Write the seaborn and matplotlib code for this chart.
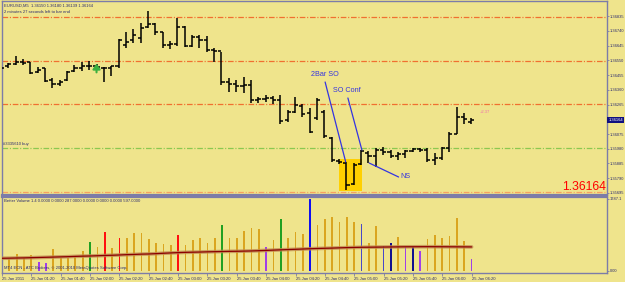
import numpy as np
import pandas as pd
import matplotlib
matplotlib.use("Agg")
import matplotlib.pyplot as plt
from matplotlib.patches import Rectangle
import seaborn as sns

# ---------------- data ----------------
time_labels = ["25 Jan 2011", "25 Jan 01:20", "25 Jan 01:40", "25 Jan 02:00", "25 Jan 02:20",
               "25 Jan 02:40", "25 Jan 03:00", "25 Jan 03:20", "25 Jan 03:40", "25 Jan 04:00",
               "25 Jan 04:20", "25 Jan 04:40", "25 Jan 05:00", "25 Jan 05:20", "25 Jan 05:40",
               "25 Jan 06:00", "25 Jan 06:20"]

high = [1.36519, 1.36532, 1.36577, 1.36558, 1.36539, 1.36507, 1.36500, 1.36436, 1.36423, 1.36481,
        1.36519, 1.36539, 1.36545, 1.36526, 1.36507, 1.36513, 1.36687, 1.36732, 1.36751, 1.36790,
        1.36867, 1.36790, 1.36732, 1.36674, 1.36822, 1.36771, 1.36713, 1.36713, 1.36706, 1.36629,
        1.36603, 1.36436, 1.36423, 1.36442, 1.36423, 1.36313, 1.36326, 1.36320, 1.36326, 1.36230,
        1.36313, 1.36268, 1.36243, 1.36307, 1.36230, 1.36056, 1.35914, 1.35895, 1.35888, 1.35972,
        1.35966, 1.35985, 1.35991, 1.35972, 1.35959, 1.35972, 1.35985, 1.35985, 1.35985, 1.35953,
        1.35991, 1.36088, 1.36249, 1.36210, 1.36180]
low = [1.36442, 1.36500, 1.36519, 1.36519, 1.36461, 1.36468, 1.36410, 1.36371, 1.36384, 1.36416,
       1.36474, 1.36481, 1.36487, 1.36487, 1.36410, 1.36449, 1.36500, 1.36629, 1.36661, 1.36661,
       1.36758, 1.36713, 1.36629, 1.36622, 1.36642, 1.36635, 1.36635, 1.36629, 1.36603, 1.36539,
       1.36391, 1.36346, 1.36346, 1.36339, 1.36275, 1.36275, 1.36281, 1.36268, 1.36140, 1.36152,
       1.36210, 1.36185, 1.36082, 1.36165, 1.36049, 1.35895, 1.35882, 1.35714, 1.35747, 1.35875,
       1.35888, 1.35863, 1.35940, 1.35920, 1.35908, 1.35920, 1.35959, 1.35959, 1.35895, 1.35875,
       1.35908, 1.35959, 1.36075, 1.36140, 1.36139]
open_ = [1.36487, 1.36513, 1.36526, 1.36539, 1.36539, 1.36474, 1.36500, 1.36423, 1.36397, 1.36423,
         1.36481, 1.36500, 1.36513, 1.36513, 1.36500, 1.36500, 1.36513, 1.36648, 1.36680, 1.36693,
         1.36764, 1.36783, 1.36732, 1.36648, 1.36655, 1.36764, 1.36642, 1.36700, 1.36680, 1.36616,
         1.36610, 1.36410, 1.36397, 1.36384, 1.36391, 1.36294, 1.36300, 1.36307, 1.36294, 1.36165,
         1.36217, 1.36255, 1.36210, 1.36178, 1.36217, 1.36049, 1.35901, 1.35888, 1.35753, 1.35882,
         1.35953, 1.35933, 1.35972, 1.35959, 1.35933, 1.35946, 1.35966, 1.35978, 1.35972, 1.35908,
         1.35920, 1.35985, 1.36075, 1.36185, 1.36150]
close = [1.36500, 1.36526, 1.36539, 1.36532, 1.36468, 1.36487, 1.36416, 1.36397, 1.36410, 1.36474,
         1.36500, 1.36513, 1.36513, 1.36507, 1.36500, 1.36513, 1.36680, 1.36668, 1.36713, 1.36758,
         1.36783, 1.36732, 1.36648, 1.36655, 1.36764, 1.36642, 1.36700, 1.36680, 1.36616, 1.36610,
         1.36410, 1.36397, 1.36384, 1.36391, 1.36294, 1.36300, 1.36307, 1.36294, 1.36159, 1.36217,
         1.36262, 1.36204, 1.36088, 1.36294, 1.36062, 1.35908, 1.35895, 1.35747, 1.35875, 1.35966,
         1.35933, 1.35972, 1.35959, 1.35933, 1.35946, 1.35966, 1.35978, 1.35972, 1.35908, 1.35920,
         1.35985, 1.36075, 1.36185, 1.36172, 1.36164]

volume = [322, 298, 422, 322, 397, 223, 198, 546, 322, 322,
          372, 496, 719, 595, 967, 570, 818, 818, 942, 942,
          794, 694, 670, 645, 893, 645, 769, 818, 694, 818,
          1141, 818, 818, 992, 1066, 1042, 595, 769, 1290, 818,
          967, 918, 1787, 1141, 1290, 1339, 1215, 1339, 1215, 1166,
          694, 1116, 620, 694, 843, 595, 595, 496, 794, 893,
          818, 868, 1314, 744, 287]
vol_kind = ["n", "n", "n", "n", "n", "p", "p", "n", "n", "n",
            "n", "n", "G", "n", "R", "n", "R", "n", "n", "n",
            "n", "n", "n", "n", "R", "n", "n", "n", "n", "n",
            "G", "n", "n", "n", "n", "n", "p", "n", "G", "n",
            "n", "n", "B", "n", "n", "n", "n", "n", "n", "S",
            "n", "n", "S", "D", "n", "p", "D", "p", "n", "n",
            "n", "n", "n", "n", "p"]
avg_volume = [315, 318, 322, 325, 330, 335, 340, 345, 350, 355,
              362, 368, 372, 378, 385, 390, 397, 405, 410, 418,
              422, 430, 440, 448, 456, 462, 466, 470, 475, 479,
              483, 487, 489, 493, 497, 503, 510, 518, 525, 532,
              538, 545, 552, 558, 563, 568, 574, 580, 584, 588,
              590, 592, 594, 596, 598, 600, 601, 602, 603, 602,
              601, 600, 599, 598, 597]

price_ticks = [1.36835, 1.36740, 1.36645, 1.36550, 1.36455, 1.36360, 1.36265,
               1.36075, 1.35980, 1.35885, 1.35790, 1.35695]
level_lines = [1.36829, 1.36545, 1.36268, 1.35700]
buy_level = 1.35985
last_price = 1.36164

# ---------------- style ----------------
BG = "#EFE48C"
FRAME = "#7C7CA8"
TXT = "#2A2A70"
kind_colors = {"n": "#DAA520", "p": "#A040E8", "G": "#22A022", "R": "#FF1010",
               "B": "#1010F0", "S": "#4848C8", "D": "#101090"}

sns.set_style("white", {"axes.facecolor": BG, "figure.facecolor": BG})
plt.rcParams["font.family"] = ["Liberation Sans", "DejaVu Sans"]

fig = plt.figure(figsize=(6.25, 2.82), dpi=100)
fig.patch.set_facecolor(BG)
W, H = 625, 282
ax1 = fig.add_axes([2 / W, 1 - 195 / H, 605 / W, 194 / H])
ax2 = fig.add_axes([2 / W, 1 - 273 / H, 605 / W, 76 / H])

n = len(close)
xs = np.arange(n)
df = pd.DataFrame({"bar": xs, "open": open_, "high": high, "low": low, "close": close,
                   "volume": volume, "kind": vol_kind, "avg": avg_volume})

xmin, xmax = 0.14, 82.45
for ax in (ax1, ax2):
    ax.set_facecolor(BG)
    ax.set_xlim(xmin, xmax)
    for s in ax.spines.values():
        s.set_color(FRAME)
        s.set_linewidth(1.0)
        s.set_visible(True)
ax1.spines["bottom"].set_linewidth(1.6)
ax2.spines["top"].set_linewidth(1.6)

# ---------------- main panel ----------------
ax1.set_ylim(1.35682, 1.36932)
dash = (0, (4.5, 1.4, 0.9, 1.4))
for i, lv in enumerate(level_lines):
    ax1.axhline(lv, color="#F07030" if i < 3 else "#F8A060", lw=0.9, ls=dash, zorder=1)
ax1.axhline(buy_level, color="#8CC850", lw=0.9, ls=dash, zorder=1)

# highlight box (2 bar shake-out)
ax1.add_patch(Rectangle((46.0, 1.35708), 3.1, 1.35914 - 1.35708, facecolor="#FFD000",
                        edgecolor="none", zorder=2))

ax1.vlines(df["bar"], df["low"], df["high"], color="black", lw=1.1, zorder=3)
ax1.hlines(df["open"], df["bar"] - 0.42, df["bar"], color="black", lw=1.1, zorder=3)
ax1.hlines(df["close"], df["bar"], df["bar"] + 0.42, color="black", lw=1.1, zorder=3)

# green arrow signal
ax1.annotate("", xy=(13, 1.36528), xytext=(13, 1.36472),
             arrowprops=dict(arrowstyle="-|>,head_width=0.22,head_length=0.3",
                             color="#3CB040", lw=1.5, shrinkA=0, shrinkB=0), zorder=4)

# annotation lines
ax1.plot([44.1, 46.9], [1.36410, 1.35895], color="#3434E0", lw=0.9, zorder=5)
ax1.plot([47.2, 49.1], [1.36307, 1.35972], color="#3434E0", lw=0.9, zorder=5)
ax1.plot([50.1, 54.1], [1.35888, 1.35798], color="#3434E0", lw=0.9, zorder=5)
ax1.text(42.2, 1.36435, "2Bar SO", color="#3434E0", fontsize=5.2, va="bottom", ha="left")
ax1.text(45.2, 1.36330, "SO Conf", color="#3434E0", fontsize=5.2, va="bottom", ha="left")
ax1.text(54.3, 1.35800, "NS", color="#3434E0", fontsize=5.2, va="center", ha="left")
ax1.text(65.2, 1.36220, "+2.37", color="#F070B0", fontsize=3.0, va="center", ha="left")

ax1.text(0.003, 0.985, "EURUSD,M5  1.36150 1.36180 1.36139 1.36164", transform=ax1.transAxes,
         color=TXT, fontsize=3.0, va="top", ha="left")
ax1.text(0.003, 0.955, "2 minutes 27 seconds left to bar end", transform=ax1.transAxes,
         color=TXT, fontsize=3.0, va="top", ha="left")
ax1.text(0.3, buy_level + 0.00012, "#3335610 buy", color=TXT, fontsize=3.0,
         va="bottom", ha="left")
ax1.text(0.998, 1.35695, f"{last_price:.5f}", transform=ax1.get_yaxis_transform(),
         color="#FF0000", fontsize=8.8, va="bottom", ha="right")

ax1.yaxis.tick_right()
ax1.set_yticks(price_ticks)
ax1.set_yticklabels([f"{t:.5f}" for t in price_ticks])
ax1.tick_params(axis="y", right=True, length=1.5, width=0.6, color=FRAME, labelsize=2.9,
                labelcolor=TXT, pad=0.6)
ax1.tick_params(axis="x", bottom=False, labelbottom=False)
ax1.text(1.002, last_price, f"{last_price:.5f}", transform=ax1.get_yaxis_transform(),
         color="white", fontsize=2.9, va="center", ha="left",
         bbox=dict(boxstyle="square,pad=0.25", facecolor="#101080", edgecolor="none"))

# ---------------- volume panel ----------------
ax2.set_ylim(-50, 1835)
ax2.bar(df["bar"], df["volume"], width=0.24, color=[kind_colors[k] for k in df["kind"]],
        edgecolor="none", linewidth=0, zorder=2)
sns.lineplot(data=df, x="bar", y="avg", ax=ax2, color="#C08A50", lw=2.6, alpha=0.8, zorder=3)
sns.lineplot(data=df, x="bar", y="avg", ax=ax2, color="#8B0000", lw=0.9, zorder=4)
ax2.set_xlim(xmin, xmax)
ax2.set_xlabel("")
ax2.set_ylabel("")
ax2.text(0.003, 0.97, "Better Volume 1.4 0.0000 0.0000 287.0000 0.0000 0.0000 0.0000 597.0000",
         transform=ax2.transAxes, color=TXT, fontsize=3.0, va="top", ha="left")
ax2.text(0.003, 0.06, "MT4 ECN - ATC Brokers, \u00a9 2001-2010 MetaQuotes Software Corp.",
         transform=ax2.transAxes, color=TXT, fontsize=3.0, va="center", ha="left")

ax2.yaxis.tick_right()
ax2.set_yticks([1787.1, 0])
ax2.set_yticklabels(["1787.1", "0.00"])
ax2.tick_params(axis="y", right=True, length=1.5, width=0.6, color=FRAME, labelsize=2.9,
                labelcolor=TXT, pad=0.6)
ax2.set_xticks(np.arange(0, n, 4))
ax2.set_xticklabels(time_labels, ha="left")
ax2.tick_params(axis="x", bottom=True, length=2, width=0.6, color=FRAME, labelsize=3.0,
                labelcolor=TXT, pad=1)

fig.savefig("out.png", dpi=100, facecolor=BG)
